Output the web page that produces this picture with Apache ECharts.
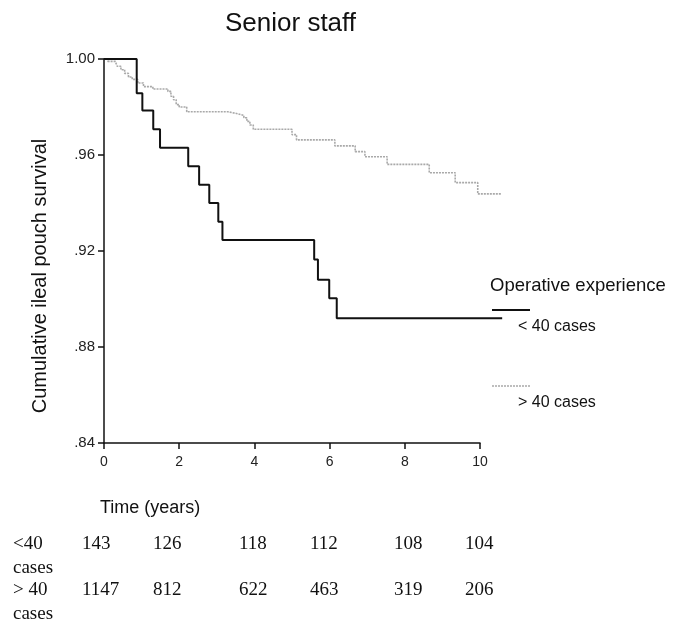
<html lang="en">
<head>
	<meta charset="utf-8">
	<title>Senior staff</title>
	<script src="https://cdn.jsdelivr.net/npm/echarts@6/dist/echarts.min.js"></script>
	<style>
		html, body { margin: 0; padding: 0; background: #fff; }
		#chart { width: 681px; height: 623px; }
	</style>
</head>
<body>
	<div id="chart"></div>
	<script>
		// survival steps: [years, cumulative survival]
		var under40 = [
			[0, 1.000], [0.87, 0.9857], [1.02, 0.9785], [1.31, 0.9707], [1.49, 0.963],
			[2.24, 0.9553], [2.53, 0.9476], [2.80, 0.940], [3.04, 0.9322], [3.15, 0.9246],
			[5.59, 0.9165], [5.69, 0.908], [5.99, 0.9003], [6.19, 0.892], [10.59, 0.892]
		];
		var over40 = [
			[0, 1.000], [0.10, 0.999], [0.30, 0.9985], [0.35, 0.997], [0.45, 0.9955],
			[0.55, 0.994], [0.65, 0.9925], [0.75, 0.9915], [0.90, 0.990], [1.05, 0.9885],
			[1.30, 0.9875], [1.70, 0.9865], [1.78, 0.9845], [1.85, 0.983], [1.92, 0.981],
			[2.00, 0.980], [2.20, 0.978], [3.30, 0.9772], [3.55, 0.9765], [3.72, 0.9755],
			[3.80, 0.974], [3.88, 0.9725], [3.97, 0.9707], [5.00, 0.9685], [5.12, 0.9663],
			[6.14, 0.9638], [6.68, 0.9614], [6.94, 0.9593], [7.53, 0.9561], [8.65, 0.9526],
			[9.34, 0.9485], [9.94, 0.9438], [10.58, 0.9438]
		];
		var riskTimes = [0, 2, 4, 6, 8, 10];
		var riskUnder40 = [143, 126, 118, 112, 108, 104];
		var riskOver40 = [1147, 812, 622, 463, 319, 206];
		var riskRowLabels = [['<40', 'cases'], ['> 40', 'cases']];

		var sans = 'Liberation Sans, Arial, sans-serif';
		var serif = 'Liberation Serif, Times New Roman, serif';

		// the curves run a little past the last tick (10), so they get their own grid
		var axisEnd = 10, dataEnd = 10.6;
		var gridLeft = 104, gridTop = 59, gridW = 376, gridH = 384;

		// numbers-at-risk table under the x axis
		var colX = [82, 153, 239, 310, 394, 465];
		var tableGraphic = [];
		[riskUnder40, riskOver40].forEach(function (row, r) {
			var y = r == 0 ? 546 : 592;
			tableGraphic.push({
				type: 'text', left: 13, top: y - 11,
				style: { text: riskRowLabels[r][0], font: '19px ' + serif, fill: '#111' }
			});
			tableGraphic.push({
				type: 'text', left: 13, top: y + 13,
				style: { text: riskRowLabels[r][1], font: '19px ' + serif, fill: '#111' }
			});
			row.forEach(function (n, i) {
				tableGraphic.push({
					type: 'text', left: colX[i], top: y - 11,
					style: { text: String(n), font: '19px ' + serif, fill: '#111' }
				});
			});
		});

		var chart = echarts.init(document.getElementById('chart'), null, { renderer: 'canvas' });
		chart.setOption({
			animation: false,
			backgroundColor: '#fff',
			title: {
				text: 'Senior staff',
				left: 220, top: 6,
				textStyle: { fontFamily: sans, fontSize: 26, fontWeight: 'normal', color: '#111' }
			},
			grid: [
				{ left: gridLeft, top: gridTop, width: gridW, height: gridH },
				{ left: gridLeft, top: gridTop, width: gridW * dataEnd / axisEnd, height: gridH }
			],
			xAxis: [
				{
					gridIndex: 0, type: 'value', min: 0, max: axisEnd, interval: 2,
					axisLine: { lineStyle: { color: '#111', width: 1.5 } },
					axisTick: { length: 6, lineStyle: { color: '#111', width: 1.5 } },
					axisLabel: { margin: 12, fontFamily: sans, fontSize: 14, color: '#222' },
					splitLine: { show: false }
				},
				{
					gridIndex: 1, type: 'value', min: 0, max: dataEnd, show: false
				}
			],
			yAxis: [
				{
					gridIndex: 0, type: 'value', min: 0.84, max: 1.0, interval: 0.04,
					axisLine: { show: true, lineStyle: { color: '#111', width: 1.5 } },
					axisTick: { show: true, length: 6, lineStyle: { color: '#111', width: 1.5 } },
					axisLabel: {
						margin: 9, fontFamily: sans, fontSize: 15, color: '#222',
						formatter: function (v) { return v.toFixed(2).replace(/^0/, ''); }
					},
					splitLine: { show: false }
				},
				{
					gridIndex: 1, type: 'value', min: 0.84, max: 1.0, show: false
				}
			],
			series: [
				{
					name: '> 40 cases', type: 'line', step: 'end', data: over40,
					xAxisIndex: 1, yAxisIndex: 1, showSymbol: false, clip: false,
					lineStyle: { color: '#a9a9a9', width: 1.6, type: [2, 1] }
				},
				{
					name: '< 40 cases', type: 'line', step: 'end', data: under40,
					xAxisIndex: 1, yAxisIndex: 1, showSymbol: false, clip: false,
					lineStyle: { color: '#111', width: 2 }
				}
			],
			graphic: [
				{
					type: 'text', x: 40, y: 276, rotation: Math.PI / 2,
					style: {
						text: 'Cumulative ileal pouch survival', font: '20px ' + sans, fill: '#111',
						align: 'center', verticalAlign: 'middle'
					}
				},
				{
					type: 'text', left: 100, top: 499,
					style: { text: 'Time (years)', font: '18px ' + sans, fill: '#111' }
				},
				{
					type: 'text', left: 490, top: 276,
					style: { text: 'Operative experience', font: '18.5px ' + sans, fill: '#111' }
				},
				{
					type: 'line', shape: { x1: 492, y1: 310, x2: 530, y2: 310 },
					style: { stroke: '#111', lineWidth: 2 }
				},
				{
					type: 'text', left: 518, top: 319,
					style: { text: '< 40 cases', font: '16px ' + sans, fill: '#111' }
				},
				{
					type: 'line', shape: { x1: 492, y1: 386, x2: 530, y2: 386 },
					style: { stroke: '#a9a9a9', lineWidth: 1.6, lineDash: [2, 1] }
				},
				{
					type: 'text', left: 518, top: 395,
					style: { text: '> 40 cases', font: '16px ' + sans, fill: '#111' }
				}
			].concat(tableGraphic)
		});
	</script>
</body>
</html>
